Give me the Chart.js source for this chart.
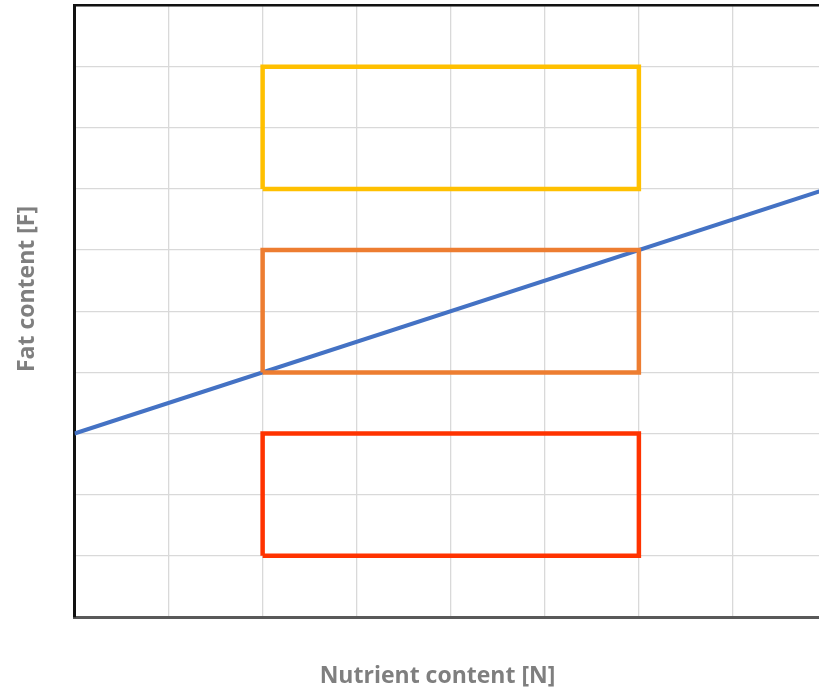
<!DOCTYPE html>
<html><head><meta charset="utf-8">
<script src="https://cdn.jsdelivr.net/npm/chart.js@4"></script>
<style>html,body{margin:0;padding:0;overflow:hidden;background:#fff}#wrap{width:819px;height:692px;overflow:hidden}canvas{display:block}</style>
</head><body><div id="wrap"><canvas id="c" width="827" height="692"></canvas></div>
<script>
const xTitle = 'Nutrient content [N]';
const yTitle = 'Fat content [F]';
const xRange = [0, 8];
const yRange = [0, 10];
const lineX = [0, 8];
const lineY = [3, 7];
const boxX = [2, 6];
const yellowBoxY = [7, 9];
const orangeBoxY = [4, 6];
const redBoxY = [1, 3];

function boxPoints(yy) {
  return [
    {x: boxX[0], y: yy[0]}, {x: boxX[1], y: yy[0]},
    {x: boxX[1], y: yy[1]}, {x: boxX[0], y: yy[1]},
    {x: boxX[0], y: yy[0]}
  ];
}
const linePoints = lineX.map((x, i) => ({x, y: lineY[i]}));

const titlePlugin = {
  id: 'titles',
  afterDraw(chart) {
    const ctx = chart.ctx;
    ctx.save();
    ctx.font = 'bold 23px "Open Sans"';
    ctx.fillStyle = '#7f7f7f';
    ctx.textAlign = 'center';
    ctx.textBaseline = 'alphabetic';
    ctx.fillText(xTitle, 437.5, 683);
    ctx.translate(34, 289);
    ctx.rotate(-Math.PI / 2);
    ctx.fillText(yTitle, 0, 0);
    ctx.restore();
  }
};

const boxStyle = c => ({
  type: 'line', borderColor: c, borderWidth: 4.5, pointRadius: 0,
  borderJoinStyle: 'miter', tension: 0, fill: false, order: 0
});

new Chart(document.getElementById('c'), {
  type: 'line',
  data: {
    datasets: [
      Object.assign({label: 'High', data: boxPoints(yellowBoxY)}, boxStyle('#FFC000')),
      Object.assign({label: 'Medium', data: boxPoints(orangeBoxY)}, boxStyle('#ED7D31')),
      Object.assign({label: 'Low', data: boxPoints(redBoxY)}, boxStyle('#FF3300')),
      {label: 'Line', data: linePoints, borderColor: '#4472C4', borderWidth: 4,
       pointRadius: 0, tension: 0, fill: false, order: 1}
    ]
  },
  options: {
    responsive: false,
    animation: false,
    events: [],
    layout: {padding: 0},
    plugins: {legend: {display: false}, tooltip: {enabled: false}},
    scales: {
      x: {
        type: 'linear', position: 'bottom', min: xRange[0], max: xRange[1],
        ticks: {display: false, stepSize: 1},
        grid: {color: '#d9d9d9', lineWidth: 1.3, drawTicks: false},
        border: {color: '#595959', width: 3},
        afterFit(s) { s.height = 75; }
      },
      x2: {
        type: 'linear', position: 'top', min: xRange[0], max: xRange[1],
        ticks: {display: false},
        grid: {display: false, drawTicks: false},
        border: {color: '#111', width: 2.5},
        afterFit(s) { s.height = 5.5; }
      },
      y: {
        type: 'linear', min: yRange[0], max: yRange[1],
        ticks: {display: false, stepSize: 1},
        grid: {color: '#d9d9d9', lineWidth: 1.3, drawTicks: false},
        border: {color: '#111', width: 3},
        afterFit(s) { s.width = 74.5; }
      }
    }
  },
  plugins: [titlePlugin]
});
</script>
</body></html>
